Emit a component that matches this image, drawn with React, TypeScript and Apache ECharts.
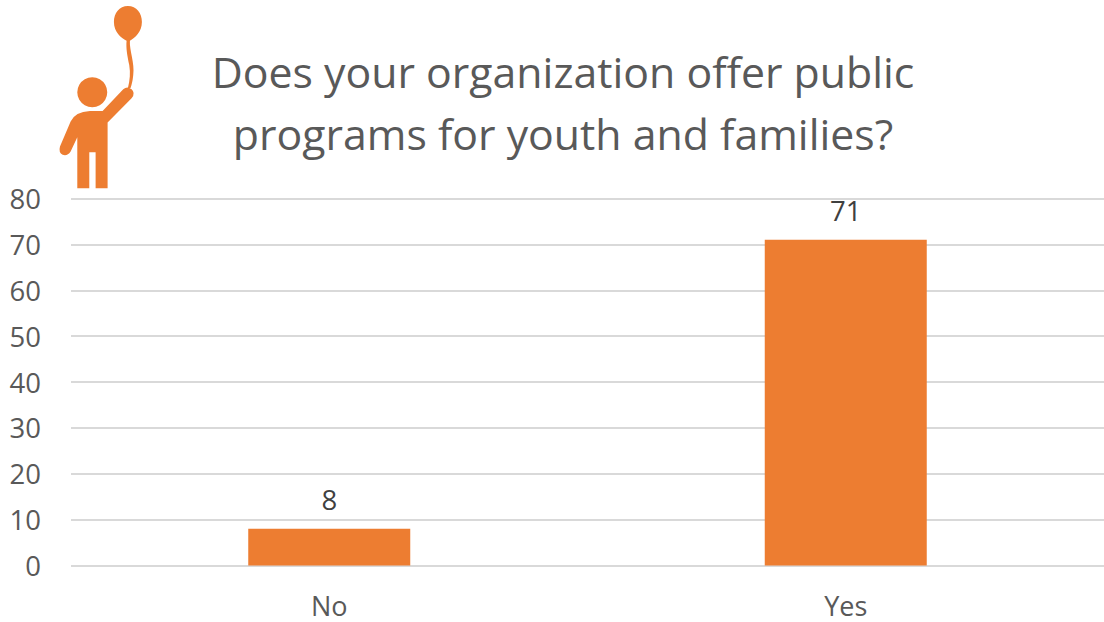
import React, { useEffect, useRef } from "react";
import * as echarts from "echarts";

const categories = ["No", "Yes"];
const responses = [8, 71];
const titleLines = ["Does your organization offer public", "programs for youth and families?"];

const ORANGE = "#ED7D31";
const TEXT = "#595959";
const FONT = "'Open Sans', 'Noto Sans', sans-serif";

// Child holding a balloon, outlined in a 3x local coordinate space.
const CHILD_ICON =
  "M 60 440 L 92 365 Q 105 335 150 333 L 188 333 L 250 268 Q 262 258 275 268 Q 288 280 275 295 L 203 368 L 203 565 L 167 565 L 167 457 L 148 457 L 148 565 L 112 565 L 112 412 L 92 455 Q 82 470 68 465 Q 55 458 60 440 Z " +
  "M 157 232 A 45 45 0 1 1 156.9 232 Z " +
  "M 264 18 C 290 18 306 40 306 66 C 306 95 285 115 270 122 C 268 150 285 190 280 225 C 278 245 275 255 272 264 L 264 264 C 270 240 272 220 268 195 C 262 165 258 145 260 122 C 243 115 222 95 222 66 C 222 40 238 18 264 18 Z";

echarts.graphic.registerShape("childIcon", echarts.graphic.extendPath(CHILD_ICON, {}));

export default function App() {
  const ref = useRef<HTMLDivElement>(null);

  useEffect(() => {
    const chart = echarts.init(ref.current!, null, { renderer: "svg" });
    chart.setOption({
      animation: false,
      backgroundColor: "#ffffff",
      grid: { left: 71, right: -1, top: 198.5, bottom: 56.5, containLabel: false },
      title: {
        text: titleLines.join("\n"),
        left: 558,
        top: 35,
        textAlign: "center",
        textStyle: {
          fontFamily: FONT,
          fontSize: 42.8,
          fontWeight: "normal",
          color: TEXT,
          lineHeight: 62,
        },
      },
      xAxis: {
        type: "category",
        data: categories,
        axisLine: { show: false },
        axisTick: { show: false },
        axisLabel: { fontFamily: FONT, fontSize: 27, color: TEXT, margin: 26 },
      },
      yAxis: {
        type: "value",
        min: 0,
        max: 80,
        interval: 10,
        axisLine: { show: false },
        axisTick: { show: false },
        axisLabel: { fontFamily: FONT, fontSize: 27.5, color: TEXT, margin: 30 },
        splitLine: { lineStyle: { color: "#D9D9D9", width: 2 } },
      },
      series: [
        {
          type: "bar",
          data: responses,
          barWidth: 162,
          itemStyle: { color: ORANGE },
          label: {
            show: true,
            position: "top",
            distance: 15,
            fontFamily: FONT,
            fontSize: 27.5,
            color: "#404040",
          },
        },
      ],
      graphic: [
        {
          type: "childIcon",
          x: 40,
          y: 0,
          scaleX: 1 / 3,
          scaleY: 1 / 3,
          style: { fill: ORANGE },
        },
      ],
    });
    return () => chart.dispose();
  }, []);

  return <div ref={ref} style={{ width: 1104, height: 622, position: "absolute", left: 0, top: 0 }} />;
}
